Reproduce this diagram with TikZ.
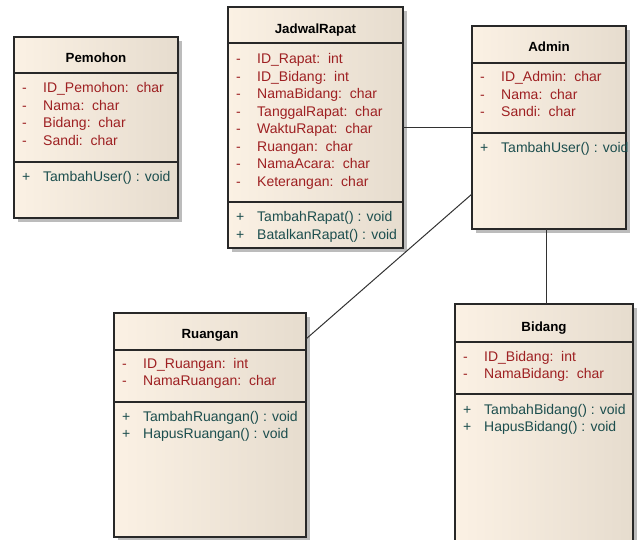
\documentclass[tikz,border=0pt]{standalone}
\usepackage{fontspec}
\setmainfont{Liberation Sans}
\definecolor{attrc}{RGB}{158,32,34}
\definecolor{methc}{RGB}{28,78,78}
\definecolor{fillL}{RGB}{251,241,228}
\definecolor{fillR}{RGB}{230,220,206}
\definecolor{edgec}{RGB}{40,40,40}
\definecolor{shadc}{RGB}{188,188,188}
\definecolor{linec}{RGB}{50,50,50}
\newcommand{\umlclass}[7]{%
  \fill[shadc] (#2+4,#3+4) rectangle (#4+4,#5+4);
  \node[classbox, anchor=north west, minimum width={#4pt-#2pt}, minimum height={#5pt-#3pt}] (#1) at (#2,#3) {};
  \draw[divider] (#2,#6) -- (#4,#6);
  \draw[divider] (#2,#7) -- (#4,#7);
}
\newcommand{\umlrow}[6]{%
  \node[#6, anchor=base west] (#1) at (#2,#3) {\makebox[21pt][l]{#4}#5};
}
\begin{document}
\begin{tikzpicture}[x=1pt,y=-1pt,
  classbox/.style={draw=edgec, line width=1.4pt, left color=fillL, right color=fillR, inner sep=0pt, outer sep=0pt},
  divider/.style={draw=edgec, line width=1.3pt},
  conn/.style={draw=linec, line width=1pt},
  attrtext/.style={text=attrc, font=\fontsize{14}{16}\selectfont, inner sep=0pt},
  methtext/.style={text=methc, font=\fontsize{14}{16}\selectfont, inner sep=0pt},
  titletext/.style={text=black, font=\fontsize{13.3}{15}\selectfont\bfseries, inner sep=0pt, anchor=base}]
\useasboundingbox (0,0) rectangle (642,540);
\clip (0,0) rectangle (642,540);

\umlclass{pem}{14}{37}{178}{218}{73}{162}
\umlclass{jad}{228}{7}{403}{248}{43}{202}
\umlclass{adm}{472}{26}{626}{229}{63}{133}
\umlclass{rua}{114}{313}{306}{537}{350}{402}
\umlclass{bid}{455}{304}{633}{570}{342}{394}

\draw[conn] (jad.east) -- (adm.west);
\draw[conn] (adm.west |- 0,194) -- (rua.east |- 0,339);
\draw[conn] (adm.south -| 546,0) -- (bid.north -| 546,0);

% Pemohon
\node[titletext] (pemT) at (96,63) {Pemohon};
\umlrow{pem1}{22}{93}{-}{ID\_Pemohon:\ \ char}{attrtext}
\umlrow{pem2}{22}{110.5}{-}{Nama:\ \ char}{attrtext}
\umlrow{pem3}{22}{128}{-}{Bidang:\ \ char}{attrtext}
\umlrow{pem4}{22}{145.5}{-}{Sandi:\ \ char}{attrtext}
\umlrow{pem5}{22}{182}{+}{TambahUser() : void}{methtext}

% JadwalRapat
\node[titletext] (jadT) at (315.5,34) {JadwalRapat};
\umlrow{jad1}{236}{64}{-}{ID\_Rapat:\ \ int}{attrtext}
\umlrow{jad2}{236}{81.5}{-}{ID\_Bidang:\ \ int}{attrtext}
\umlrow{jad3}{236}{99}{-}{NamaBidang:\ \ char}{attrtext}
\umlrow{jad4}{236}{116.5}{-}{TanggalRapat:\ \ char}{attrtext}
\umlrow{jad5}{236}{134}{-}{WaktuRapat:\ \ char}{attrtext}
\umlrow{jad6}{236}{151.5}{-}{Ruangan:\ \ char}{attrtext}
\umlrow{jad7}{236}{169}{-}{NamaAcara:\ \ char}{attrtext}
\umlrow{jad8}{236}{186.5}{-}{Keterangan:\ \ char}{attrtext}
\umlrow{jad9}{236}{222}{+}{TambahRapat() : void}{methtext}
\umlrow{jad10}{236}{239.5}{+}{BatalkanRapat() : void}{methtext}

% Admin
\node[titletext] (admT) at (549,52) {Admin};
\umlrow{adm1}{480}{82}{-}{ID\_Admin:\ \ char}{attrtext}
\umlrow{adm2}{480}{99.5}{-}{Nama:\ \ char}{attrtext}
\umlrow{adm3}{480}{117}{-}{Sandi:\ \ char}{attrtext}
\umlrow{adm4}{480}{153}{+}{TambahUser() : void}{methtext}

% Ruangan
\node[titletext] (ruaT) at (210,338) {Ruangan};
\umlrow{rua1}{122}{368}{-}{ID\_Ruangan:\ \ int}{attrtext}
\umlrow{rua2}{122}{385.5}{-}{NamaRuangan:\ \ char}{attrtext}
\umlrow{rua3}{122}{421}{+}{TambahRuangan() : void}{methtext}
\umlrow{rua4}{122}{438.5}{+}{HapusRuangan() : void}{methtext}

% Bidang
\node[titletext] (bidT) at (544,331) {Bidang};
\umlrow{bid1}{463}{361}{-}{ID\_Bidang:\ \ int}{attrtext}
\umlrow{bid2}{463}{378.5}{-}{NamaBidang:\ \ char}{attrtext}
\umlrow{bid3}{463}{414}{+}{TambahBidang() : void}{methtext}
\umlrow{bid4}{463}{431.5}{+}{HapusBidang() : void}{methtext}
\end{tikzpicture}
\end{document}
